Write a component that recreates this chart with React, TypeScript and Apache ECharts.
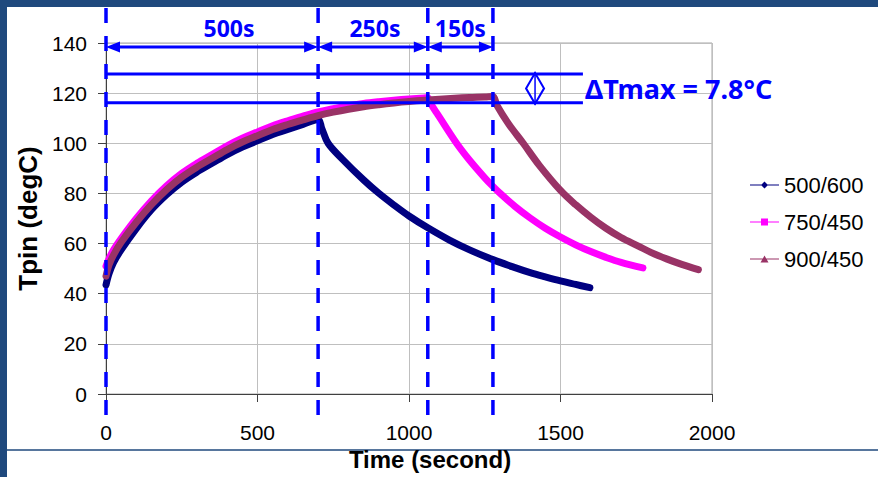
import React, { useEffect, useRef } from 'react';
import * as echarts from 'echarts';

// ---------- data ----------
const seriesNames = ['500/600', '750/450', '900/450'];
const seriesColors = ['#000080', '#FF00FF', '#993366'];

const s500Time = [0, 10, 25, 50, 100, 150, 200, 250, 300, 350, 400, 450, 500, 550, 600, 650, 700,
  712, 733, 780, 850, 900, 950, 1000, 1062, 1135, 1200, 1277, 1350, 1400, 1450, 1500, 1550, 1597];
const s500Temp = [43.5, 48, 52.5, 57.5, 66, 73.5, 79.5, 84.5, 88.5, 92, 95.5, 98.5, 101, 103.5, 105.5, 107.5, 109.5,
  106, 100, 93.7, 85.4, 80.1, 75.4, 71, 66.3, 61.3, 57.5, 53.6, 50.4, 48.4, 46.7, 45.1, 43.7, 42.4];

const s750Time = [0, 10, 25, 50, 100, 150, 200, 250, 300, 350, 400, 450, 500, 550, 600, 650, 700, 750, 800, 850, 900, 950, 1000, 1050, 1062,
  1072, 1100, 1157, 1200, 1250, 1277, 1300, 1350, 1400, 1450, 1500, 1550, 1600, 1650, 1700, 1772];
const s750Temp = [51, 54, 57.5, 62, 70, 77, 83, 88, 92, 95.5, 99, 102, 104.5, 107, 109, 110.8, 112.5, 113.8, 115, 115.9, 116.6, 117.2, 117.7, 118.1, 118.2,
  115.8, 110.5, 100, 93.2, 86.2, 82.8, 80.1, 74.8, 70.2, 66.1, 62.6, 59.5, 56.8, 54.5, 52.5, 50.3];

const s900Time = [0, 10, 25, 50, 100, 150, 200, 250, 300, 350, 400, 450, 500, 550, 600, 650, 700, 750, 800, 850, 900, 950, 1000, 1050, 1100, 1150, 1200, 1250, 1277,
  1290, 1330, 1377, 1430, 1500, 1550, 1600, 1650, 1700, 1757, 1800, 1850, 1900, 1955];
const s900Temp = [47, 51.5, 55.5, 60.5, 68.5, 75.5, 81.5, 86.5, 90.5, 94, 97.5, 100.5, 103, 105.5, 107.5, 109.3, 111, 112.4, 113.6, 114.6, 115.4, 116.1, 116.7, 117.2, 117.6, 118, 118.3, 118.5, 118.7,
  115.2, 107.5, 100, 91.2, 81.2, 75.5, 70.5, 66.1, 62.4, 59, 56.4, 53.9, 51.7, 49.6];

const seriesTimes = [s500Time, s750Time, s900Time];
const seriesTemps = [s500Temp, s750Temp, s900Temp];

const xTicks = [0, 500, 1000, 1500, 2000];
const yTicks = [0, 20, 40, 60, 80, 100, 120, 140];

// annotations
const phaseBounds = [0, 700, 1062, 1277];
const phaseLabels = ['500s', '250s', '150s'];
const arrowLevel = 138.4;
const deltaLevels = [127.6, 116.2];
const deltaLineEnd = 1574;
const deltaMarkTime = 1416;
const deltaLabel = 'ΔTmax = 7.8°C';

const xTitle = 'Time (second)';
const yTitle = 'Tpin (degC)';

// ---------- layout / style ----------
const W = 878;
const H = 477;
const FRAME = '#1F497D';
const BLUE = '#0000FF';
const labelDx = [17, 2, 0];
const legendIcons = [
  'path://M14.5,0L18,3.5L14.5,7L11,3.5Z M0,3H29V4H0Z',
  'path://M11,0H18V7H11Z M0,3H29V4H0Z',
  'path://M14.5,0L18.5,7H10.5Z M0,3H29V4H0Z',
];

export default function App() {
  const ref = useRef<HTMLDivElement>(null);
  useEffect(() => {
    if (!ref.current) return;
    const chart = echarts.init(ref.current, null, { renderer: 'svg' });
    const font = 'Liberation Sans, Arial, sans-serif';
    chart.setOption({
      animation: false,
      backgroundColor: '#fff',
      grid: { left: 106, right: 166, top: 43, bottom: 83, show: true, borderColor: '#a6a6a6', borderWidth: 1 },
      xAxis: {
        type: 'value', min: xTicks[0], max: xTicks[xTicks.length - 1], interval: 500,
        name: xTitle, nameLocation: 'middle', nameGap: 44,
        nameTextStyle: { fontFamily: font, fontWeight: 'bold', fontSize: 24, color: '#000', padding: [0, 0, 0, 42] },
        axisLine: { onZero: false, lineStyle: { color: '#404040', width: 1 } },
        axisTick: { show: true, length: 8, inside: false, lineStyle: { color: '#404040' } },
        axisLabel: { fontFamily: font, fontSize: 21, color: '#000', margin: 28, formatter: (v: number) => String(v) },
        splitLine: { show: true, lineStyle: { color: '#bfbfbf', width: 1 } },
      },
      yAxis: {
        type: 'value', min: yTicks[0], max: yTicks[yTicks.length - 1], interval: 20,
        name: yTitle, nameLocation: 'middle', nameGap: 64, nameRotate: 90,
        nameTextStyle: { fontFamily: font, fontWeight: 'bold', fontSize: 26, color: '#000' },
        axisLine: { show: true, lineStyle: { color: '#404040', width: 1 } },
        axisTick: { show: true, length: 8, inside: false, lineStyle: { color: '#404040' } },
        axisLabel: { fontFamily: font, fontSize: 21, color: '#000', margin: 19, formatter: (v: number) => String(v) },
        splitLine: { show: true, lineStyle: { color: '#bfbfbf', width: 1 } },
      },
      legend: {
        orient: 'vertical', left: 745, top: 169, itemWidth: 29, itemHeight: 7, itemGap: 15,
        textStyle: { fontFamily: font, fontSize: 22, color: '#000', lineHeight: 22 },
        data: seriesNames.map((n, i) => ({ name: n, icon: legendIcons[i], itemStyle: { color: seriesColors[i], borderWidth: 0 } })),
      },
      series: seriesNames.map((n, i) => ({
        name: n,
        type: 'line',
        data: seriesTimes[i].map((t, j) => [t, seriesTemps[i][j]]),
        showSymbol: false,
        smooth: 0.35,
        color: seriesColors[i],
        lineStyle: { color: seriesColors[i], width: 7, cap: 'round', join: 'round' },
        itemStyle: { color: seriesColors[i] },
        z: 2 + i,
      })),
    });

    const px = (t: number, v: number) => chart.convertToPixel({ gridIndex: 0 }, [t, v]) as number[];
    const yBottom = px(0, 0)[1];
    const g: any[] = [];
    // frame
    g.push({ type: 'rect', shape: { x: 0, y: 0, width: W, height: 7 }, style: { fill: FRAME }, z: 100 });
    g.push({ type: 'rect', shape: { x: 0, y: 0, width: 7, height: H }, style: { fill: FRAME }, z: 100 });
    g.push({ type: 'line', shape: { x1: 7, y1: 450, x2: W, y2: 450 }, style: { stroke: FRAME, lineWidth: 1.5 }, z: -1 });
    // dashed verticals
    phaseBounds.forEach((t) => {
      const x = px(t, 0)[0];
      g.push({ type: 'line', shape: { x1: x, y1: 8, x2: x, y2: yBottom + 21 }, style: { stroke: BLUE, lineWidth: 3.5, lineDash: [15, 13] }, z: 50 });
    });
    // arrows + labels
    const ya = px(0, arrowLevel)[1];
    for (let i = 0; i < phaseLabels.length; i++) {
      const xa = px(phaseBounds[i], 0)[0];
      const xb = px(phaseBounds[i + 1], 0)[0];
      g.push({ type: 'line', shape: { x1: xa + 8, y1: ya, x2: xb - 8, y2: ya }, style: { stroke: BLUE, lineWidth: 3 }, z: 50 });
      g.push({ type: 'polygon', shape: { points: [[xa, ya], [xa + 14, ya - 5.5], [xa + 14, ya + 5.5]] }, style: { fill: BLUE }, z: 50 });
      g.push({ type: 'polygon', shape: { points: [[xb, ya], [xb - 14, ya - 5.5], [xb - 14, ya + 5.5]] }, style: { fill: BLUE }, z: 50 });
      g.push({
        type: 'text', x: (xa + xb) / 2 + labelDx[i], y: 28,
        style: { text: phaseLabels[i], fill: BLUE, font: 'bold 23px "Noto Sans", sans-serif', textAlign: 'center', textVerticalAlign: 'middle' }, z: 50,
      });
    }
    // delta lines
    const xl0 = px(0, 0)[0];
    const xl1 = px(deltaLineEnd, 0)[0];
    const yU = px(0, deltaLevels[0])[1];
    const yL = px(0, deltaLevels[1])[1];
    deltaLevels.forEach((v) => {
      const y = px(0, v)[1];
      g.push({ type: 'line', shape: { x1: xl0, y1: y, x2: xl1, y2: y }, style: { stroke: BLUE, lineWidth: 3 }, z: 50 });
    });
    const xd = px(deltaMarkTime, 0)[0];
    const ym = (yU + yL) / 2;
    g.push({ type: 'line', shape: { x1: xd, y1: yU - 2, x2: xd, y2: yL + 2 }, style: { stroke: BLUE, lineWidth: 1.5 }, z: 50 });
    g.push({ type: 'polygon', shape: { points: [[xd, yU - 1], [xd + 9, ym], [xd, yL + 1], [xd - 9, ym]] }, style: { fill: 'none', stroke: BLUE, lineWidth: 2 }, z: 50 });
    g.push({
      type: 'text', x: xd + 50, y: ym,
      style: { text: deltaLabel, fill: BLUE, font: 'bold 27px "Noto Sans", sans-serif', textAlign: 'left', textVerticalAlign: 'middle' }, z: 50,
    });
    chart.setOption({ graphic: { elements: g } });

    return () => chart.dispose();
  }, []);
  return <div ref={ref} style={{ position: 'fixed', left: 0, top: 0, width: W, height: H, background: '#fff' }} />;
}
